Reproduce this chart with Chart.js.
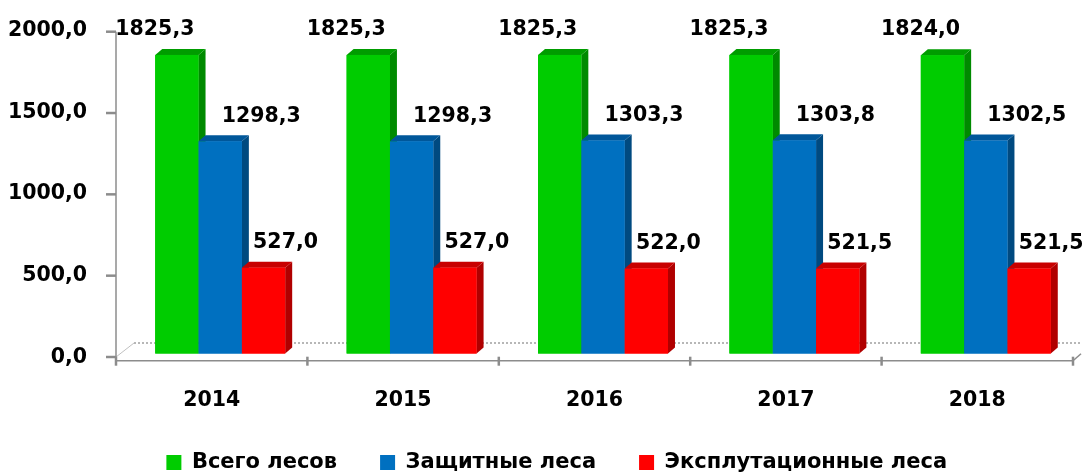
<!DOCTYPE html>
<html><head><meta charset="utf-8">
<script src="https://cdn.jsdelivr.net/npm/chart.js@4/dist/chart.umd.min.js"></script>
<style>html,body{margin:0;padding:0;background:#fff}#wrap{width:1082px;height:473px;position:relative}</style>
</head><body><div id="wrap"><canvas id="c"></canvas></div>
<script>
const categories = ['2014', '2015', '2016', '2017', '2018'];
const seriesNames = ['Всего лесов', 'Защитные леса', 'Эксплутационные леса'];
const totalForests = [1825.3, 1825.3, 1825.3, 1825.3, 1824.0];
const protectiveForests = [1298.3, 1298.3, 1303.3, 1303.8, 1302.5];
const exploitableForests = [527.0, 527.0, 522.0, 521.5, 521.5];
const yMin = 0, yMax = 2000, yStep = 500;

const FRONT = ['#00CC00', '#0070C0', '#FF0000'];
const SIDE = ['#008A00', '#004A80', '#B00000'];
const TOPC = ['#009C00', '#00579A', '#C80000'];
const LABEL_DX = [-22, 41, 22];
const LABEL_DY = -25;
const DX = 7, DY = -6;
const SHIFT = 8.5;
const FONT_FAMILY = '"DejaVu Sans", Verdana, sans-serif';
const fmt = v => Number(v).toFixed(1).replace('.', ',');

const bars3d = {
  id: 'bars3d',
  afterLayout(chart) {
    const lg = chart.legend;
    lg.top += 10; lg.bottom += 10;
    lg.left += 16; lg.right += 16;
    chart.scales.x.bottom += 30;
  },
  beforeDatasetsDraw(chart) {
    const {ctx, chartArea: a, scales: {y}} = chart;
    const axisX = a.left - SHIFT;
    const zero = y.getPixelForValue(yMin);
    const floorY = zero - 11;
    ctx.save();
    ctx.strokeStyle = '#a0a0a0'; ctx.lineWidth = 1.5; ctx.setLineDash([2, 2]);
    ctx.beginPath(); ctx.moveTo(axisX + 18, floorY); ctx.lineTo(a.right + 1, floorY); ctx.stroke();
    ctx.setLineDash([]);
    ctx.strokeStyle = '#c0c0c0'; ctx.lineWidth = 1;
    ctx.beginPath(); ctx.moveTo(axisX, zero + 3); ctx.lineTo(axisX + 18, floorY); ctx.stroke();
    ctx.restore();
  },
  afterDatasetsDraw(chart) {
    const ctx = chart.ctx;
    ctx.save();
    chart.data.datasets.forEach((ds, di) => {
      const meta = chart.getDatasetMeta(di);
      if (meta.hidden) return;
      meta.data.forEach(bar => {
        const {x, y, base, width} = bar.getProps(['x', 'y', 'base', 'width'], true);
        const l = x - width / 2, r = x + width / 2;
        ctx.fillStyle = SIDE[di];
        ctx.beginPath(); ctx.moveTo(r, y); ctx.lineTo(r + DX, y + DY); ctx.lineTo(r + DX, base + DY); ctx.lineTo(r, base); ctx.closePath(); ctx.fill();
        ctx.fillStyle = TOPC[di];
        ctx.beginPath(); ctx.moveTo(l, y); ctx.lineTo(l + DX, y + DY); ctx.lineTo(r + DX, y + DY); ctx.lineTo(r, y); ctx.closePath(); ctx.fill();
        ctx.fillStyle = FRONT[di];
        ctx.fillRect(l, y, width, base - y);
      });
    });
    ctx.fillStyle = '#000';
    ctx.font = 'bold 20.5px ' + FONT_FAMILY;
    ctx.textAlign = 'center'; ctx.textBaseline = 'middle';
    chart.data.datasets.forEach((ds, di) => {
      const meta = chart.getDatasetMeta(di);
      if (meta.hidden) return;
      meta.data.forEach((bar, i) => {
        const {x, y} = bar.getProps(['x', 'y'], true);
        ctx.fillText(fmt(ds.data[i]), x + LABEL_DX[di], y + LABEL_DY);
      });
    });
    ctx.restore();
  },
  afterDraw(chart) {
    const {ctx, chartArea: a, scales: {x, y}} = chart;
    const axisX = a.left - SHIFT;
    const zero = y.getPixelForValue(yMin);
    const top = y.getPixelForValue(yMax);
    const axisPix = v => (zero + 3) + ((top + 5.4) - (zero + 3)) * (v - yMin) / (yMax - yMin);
    const xAxisY = zero + 6.7;
    ctx.save();
    ctx.strokeStyle = '#8c8c8c'; ctx.lineWidth = 1.5;
    ctx.beginPath(); ctx.moveTo(axisX, axisPix(yMax)); ctx.lineTo(axisX, xAxisY); ctx.stroke();
    const right = x.getPixelForValue(categories.length - 0.5) - SHIFT;
    ctx.beginPath(); ctx.moveTo(axisX, xAxisY); ctx.lineTo(right, xAxisY); ctx.stroke();
    ctx.beginPath(); ctx.moveTo(right, xAxisY); ctx.lineTo(right + 8, xAxisY - 7); ctx.stroke();
    ctx.lineWidth = 2.5;
    for (let v = yMin; v <= yMax; v += yStep) {
      const py = axisPix(v);
      ctx.beginPath(); ctx.moveTo(axisX - 10, py); ctx.lineTo(axisX, py); ctx.stroke();
    }
    for (let i = 0; i <= categories.length; i++) {
      const px = x.getPixelForValue(i - 0.5) - SHIFT;
      ctx.beginPath(); ctx.moveTo(px, xAxisY - 4); ctx.lineTo(px, xAxisY + 5); ctx.stroke();
    }
    ctx.restore();
  }
};

const seriesData = [totalForests, protectiveForests, exploitableForests];
const hiddenGrid = {display: true, color: 'rgba(0,0,0,0)', drawOnChartArea: false, drawTicks: true};

new Chart(document.getElementById('c'), {
  type: 'bar',
  data: {
    labels: categories,
    datasets: seriesNames.map((name, i) => ({
      label: name,
      data: seriesData[i],
      backgroundColor: FRONT[i],
      borderWidth: 0,
      categoryPercentage: 0.679,
      barPercentage: 1
    }))
  },
  options: {
    responsive: true,
    maintainAspectRatio: false,
    animation: false,
    devicePixelRatio: 1,
    layout: {padding: {top: 26.3, right: 0.5, left: 0, bottom: 0}},
    scales: {
      x: {
        grid: Object.assign({}, hiddenGrid, {tickLength: 34}),
        border: {display: false},
        ticks: {color: '#000', font: {family: FONT_FAMILY, size: 20.5, weight: 'bold'}, padding: 0, labelOffset: -SHIFT, maxRotation: 0},
        afterFit(s) { s.height = 45; }
      },
      y: {
        min: yMin, max: yMax,
        grid: Object.assign({}, hiddenGrid, {tickLength: 37.5}),
        border: {display: false},
        ticks: {stepSize: yStep, color: '#000', font: {family: FONT_FAMILY, size: 20.5, weight: 'bold'}, padding: 0, labelOffset: 4, callback: v => fmt(v)},
        afterFit(s) { s.width = 124.5; }
      }
    },
    plugins: {
      tooltip: {enabled: false},
      legend: {
        position: 'bottom',
        labels: {color: '#000', font: {family: FONT_FAMILY, size: 21, weight: 'bold'}, boxWidth: 15, boxHeight: 15, padding: 43}
      }
    }
  },
  plugins: [bars3d]
});
</script>
</body></html>
